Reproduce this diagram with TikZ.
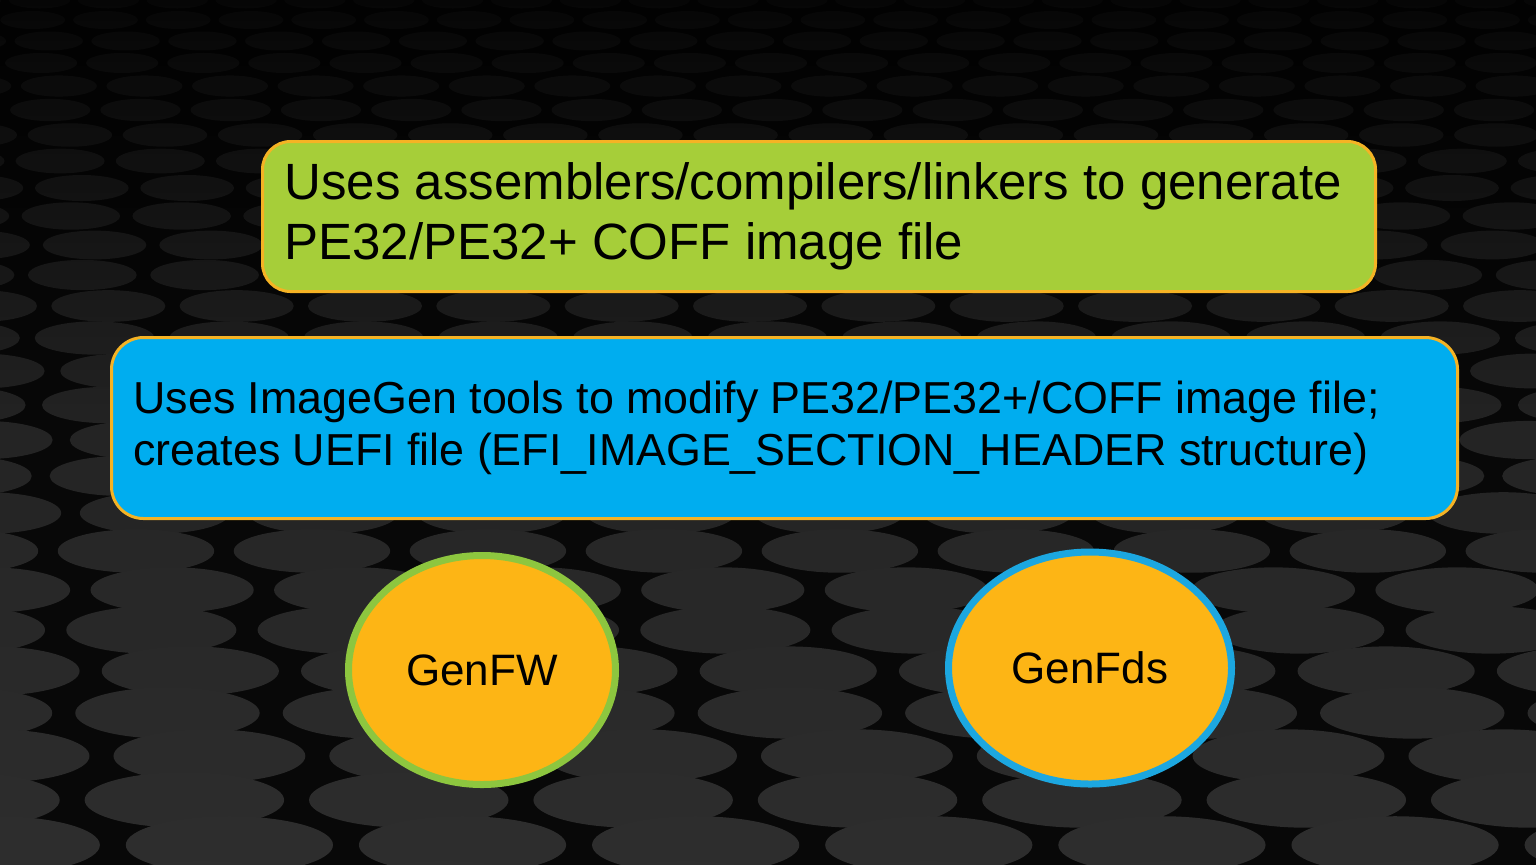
\documentclass[tikz,border=0pt]{standalone}
\usepackage{fontspec}
\setmainfont{Liberation Sans}
\usetikzlibrary{shapes.geometric,fadings}
\definecolor{bgdark}{HTML}{080808}
\definecolor{disk}{HTML}{303030}
\definecolor{boxgreen}{HTML}{A6CE39}
\definecolor{boxblue}{HTML}{00ADEF}
\definecolor{rimgold}{HTML}{F5B324}
\definecolor{ovalfill}{HTML}{FDB515}
\definecolor{rimgreen}{HTML}{8DC63F}
\definecolor{rimblue}{HTML}{1CA7E0}
\tikzset{
  infobox/.style={draw=rimgold, line width=1.5pt, align=flush left, inner xsep=11pt, inner ysep=0pt, text=black},
  tooloval/.style={ellipse, fill=ovalfill, line width=3.5pt, inner sep=0pt, font=\fontsize{22}{26}\selectfont, text=black}
}
\begin{document}
\begin{tikzpicture}[x=0.5pt,y=-0.5pt]
\useasboundingbox (0,0) rectangle (1536,864);
\fill[bgdark] (-5,-5) rectangle (1541,869);
% textured floor of cylinder tops, growing towards the bottom
\begin{scope}
\clip (0,0) rectangle (1536,864);
\foreach \yy [count=\j] in {0,20,41,63,86,110,135,161,188,216,245,275,306,338,371,405,440,476,513,551,590,630,671,713,756,800,845,891} {
  \pgfmathsetmacro{\ry}{8.5+0.024*\yy}
  \pgfmathsetmacro{\rx}{3.6*\ry}
  \pgfmathsetmacro{\off}{mod(\j,2)*0.35*\rx}
  \pgfmathtruncatemacro{\sh}{min(100,45+50*(\yy/864))}
  \foreach \k in {0,...,24} {
    \pgfmathsetmacro{\xx}{-40+\off+\k*2.25*\rx}
    \fill[disk!\sh!bgdark] (\xx,\yy) ellipse [x radius=\rx, y radius=\ry];
  }
}
\end{scope}
% darker sky towards the top edge
\fill[black, path fading=south, opacity=0.75] (-5,-5) rectangle (1541,420);
% process steps
\node[infobox, fill=boxgreen, minimum width=556.5pt, minimum height=75pt, text width=534.5pt,
      rounded corners=14pt, font=\fontsize{25.5}{30}\selectfont] (compile) at (819,216.5)
  {Uses assemblers/compilers/linkers to generate\\PE32/PE32+ COFF image file};
\node[infobox, fill=boxblue, minimum width=673pt, minimum height=90.5pt, text width=651pt,
      rounded corners=16pt, font=\fontsize{22.4}{26}\selectfont] (imagegen) at (784.5,428)
  {Uses ImageGen tools to modify PE32/PE32+/COFF image file;\\creates UEFI file (EFI\_IMAGE\_SECTION\_HEADER structure)};
% tools
\node[tooloval, draw=rimgreen, minimum width=133.5pt, minimum height=114.5pt] (genfw) at (482,670) {GenFW};
\node[tooloval, draw=rimblue, minimum width=141.5pt, minimum height=116pt] (genfds) at (1090,668) {GenFds};
\end{tikzpicture}
\end{document}
